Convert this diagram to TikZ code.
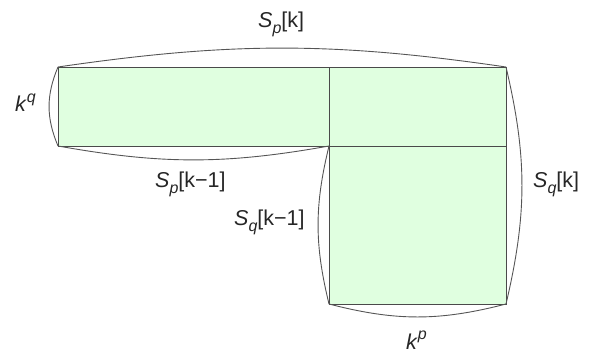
\documentclass[tikz,border=0pt]{standalone}
\usepackage{fontspec}
\setmainfont{Liberation Sans}
\newcommand{\smallidx}[1]{{\fontsize{16}{18}\selectfont\textit{#1}}}
\newcommand{\myS}[1]{\textit{S}\raisebox{-0.24em}{\smallidx{#1}}}
\newcommand{\myK}[1]{\textit{k}\raisebox{0.42em}{\smallidx{#1}}}
\definecolor{boxfill}{HTML}{E0FFE0}
\definecolor{boxline}{HTML}{4A4A4A}
\definecolor{arcline}{HTML}{555555}
\tikzset{
  cell/.style={fill=boxfill, draw=boxline, line width=0.9pt},
  brace/.style={draw=arcline, line width=0.9pt},
  lbl/.style={inner sep=0pt, anchor=base west, font=\fontsize{21.5}{25}\selectfont, text=black!85}
}
\begin{document}
\begin{tikzpicture}[x=1pt,y=1pt]
\useasboundingbox (0,0) rectangle (599,356);
\coordinate (A) at (58,289);
\coordinate (M) at (329,289);
\coordinate (B) at (506,289);
\coordinate (L) at (58,210);
\coordinate (C) at (329,210);
\coordinate (R) at (506,210);
\coordinate (D) at (329,52);
\coordinate (E) at (506,52);
% boxes
\path[cell] (A) rectangle (C);
\path[cell] (M) rectangle (R);
\path[cell] (C) rectangle (E);
% braces
\draw[brace] (A) to[bend left=8.3] (B);
\draw[brace] (L) to[bend left=22.8] (A);
\draw[brace] (L) to[bend right=10.1] (C);
\draw[brace] (C) to[bend right=13.7] (D);
\draw[brace] (B) to[bend left=13.3] (E);
\draw[brace] (D) to[bend right=14.5] (E);
% labels
\node[lbl] (spk) at (258,328) {\myS{p}[k]};
\node[lbl] (kq) at (15,244) {\myK{q}};
\node[lbl] (spk1) at (155,168) {\myS{p}[k−1]};
\node[lbl] (sqk1) at (234,130) {\myS{q}[k−1]};
\node[lbl] (sqk) at (533,168) {\myS{q}[k]};
\node[lbl] (kp) at (406,7) {\myK{p}};
\end{tikzpicture}
\end{document}
